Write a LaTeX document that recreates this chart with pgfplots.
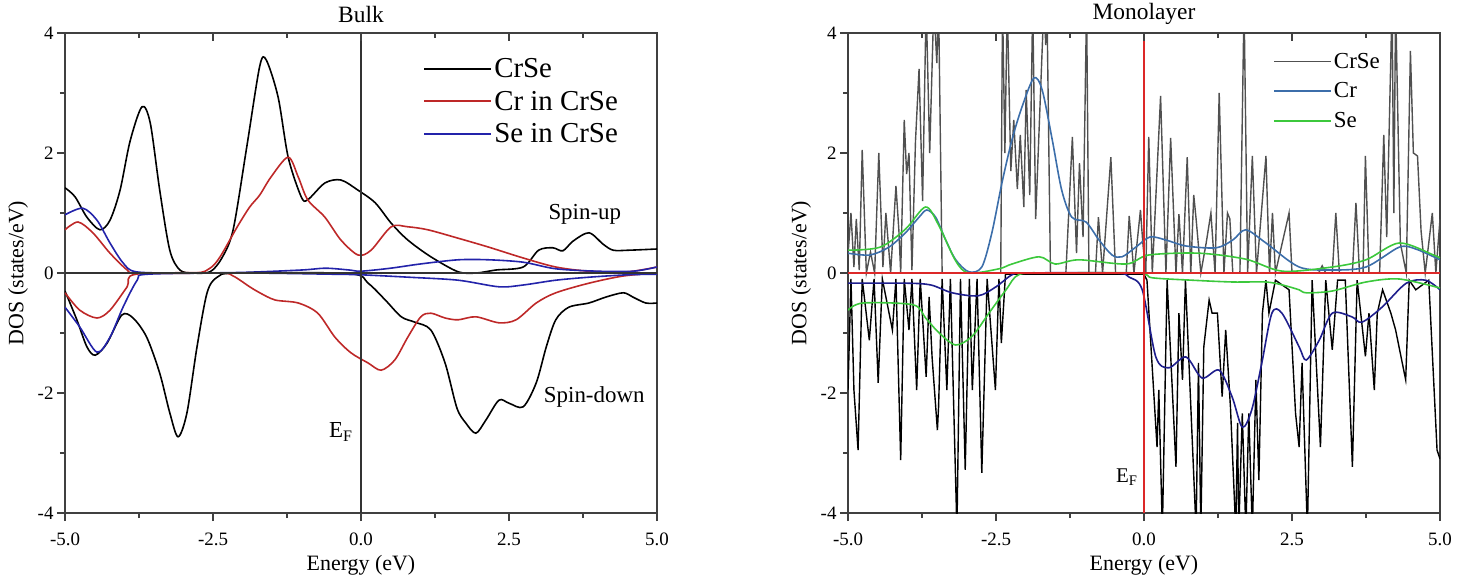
\documentclass[border=0pt]{standalone}
\usepackage{pgfplots}
\pgfplotsset{compat=1.18}
\usepackage{fontspec}
\setmainfont{Liberation Serif}

\definecolor{bred}{RGB}{190,40,40}
\definecolor{bblue}{RGB}{35,35,170}
\definecolor{mgray}{RGB}{80,80,80}
\definecolor{mcrup}{RGB}{60,110,170}
\definecolor{mcrdn}{RGB}{30,30,140}
\definecolor{mse}{RGB}{60,200,60}
\definecolor{mfermi}{RGB}{220,40,40}

\pgfplotsset{
  dosaxis/.style={
    width=592bp, height=480bp, scale only axis,
    xmin=-5, xmax=5, ymin=-4, ymax=4,
    xtick={-5,-2.5,0,2.5,5}, minor x tick num=1,
    ytick={-4,-2,0,2,4}, minor y tick num=1,
    tick align=outside, xtick pos=bottom, ytick pos=left,
    major tick length=8bp, minor tick length=5bp,
    axis line style={line width=1.2bp, black!75},
    every tick/.style={line width=1.2bp, black!75},
    x tick label style={/pgf/number format/fixed,/pgf/number format/fixed zerofill,/pgf/number format/precision=1,yshift=-8bp},
    /pgf/number format/assume math mode=true,
    tick label style={font=\fontsize{19}{22}\selectfont},
    xlabel={Energy (eV)}, ylabel={DOS (states/eV)},
    label style={font=\fontsize{22}{26}\selectfont},
    xlabel style={at={(axis description cs:0.5,-0.108)}, anchor=center},
    ylabel style={at={(axis description cs:-0.0794,0.5)}, anchor=center},
    title style={at={(axis description cs:0.5,1.027)}, anchor=center, font=\fontsize{23.5}{27}\selectfont},
    legend cell align=left,
  },
  topticks/.style={
    width=592bp, height=480bp, scale only axis,
    xmin=-5, xmax=5, ymin=-4, ymax=4,
    axis x line*=top, hide y axis,
    xtick={-5,-2.5,0,2.5,5}, minor x tick num=1, xticklabels={},
    tick align=inside, major tick length=8bp, minor tick length=5bp,
    axis line style={line width=1.2bp, black!75},
    every tick/.style={line width=1.2bp, black!75},
  }
}

\begin{document}
\begin{tikzpicture}
\path[use as bounding box] (-65bp,-73bp) rectangle (1407bp,513bp);

% ---------------- Bulk ----------------
\begin{axis}[dosaxis, at={(0bp,0bp)}, anchor=south west, title={Bulk},
  legend style={draw=none, fill=none, at={(rel axis cs:0.60,0.956)}, anchor=north west,
    font=\fontsize{29}{32}\selectfont, row sep=8bp},
  legend image code/.code={\draw[#1, line width=1.9bp] (0bp,0bp) -- (67bp,0bp);}]
\addplot[black, line width=1.6bp, smooth] coordinates {
(-5.0,1.42) (-4.83,1.27) (-4.63,0.93) (-4.41,0.72) (-4.24,0.88) (-4.07,1.38) (-3.90,2.2)
(-3.70,2.77) (-3.56,2.5) (-3.40,1.38) (-3.23,0.38) (-3.06,0.05) (-2.84,0) (-2.55,0.02)
(-2.35,0.25) (-2.16,0.72) (-1.93,2.1) (-1.71,3.45) (-1.60,3.55) (-1.40,2.93) (-1.23,1.93)
(-1.01,1.27) (-0.90,1.22) (-0.61,1.50) (-0.34,1.55) (-0.05,1.38) (0.24,1.17) (0.51,0.83)
(0.79,0.55) (1.18,0.27) (1.64,0.02) (1.95,0.0) (2.28,0.05) (2.74,0.1) (3.0,0.38) (3.24,0.42)
(3.41,0.37) (3.58,0.53) (3.85,0.67) (4.09,0.48) (4.26,0.38) (4.53,0.38) (5.0,0.40)};
\addlegendentry{CrSe}
\addplot[bred, line width=1.6bp, smooth] coordinates {
(-5.0,0.72) (-4.78,0.85) (-4.53,0.67) (-4.24,0.33) (-3.95,0.05) (-3.8,0) (-2.8,0) (-2.55,0.08)
(-2.38,0.27) (-2.09,0.77) (-1.88,1.1) (-1.71,1.3) (-1.52,1.6) (-1.23,1.93) (-1.06,1.6)
(-0.90,1.22) (-0.61,0.93) (-0.34,0.55) (-0.05,0.3) (0.17,0.38) (0.51,0.77) (0.79,0.77)
(1.13,0.72) (1.64,0.58) (2.16,0.43) (2.74,0.25) (3.29,0.1) (3.85,0.03) (4.5,0.02) (5.0,0.1)};
\addlegendentry{Cr in CrSe}
\addplot[bblue, line width=1.6bp, smooth] coordinates {
(-5.0,0.97) (-4.70,1.08) (-4.46,0.88) (-4.24,0.5) (-4.02,0.17) (-3.8,0.02) (-3.0,0) (-2.0,0.01)
(-1.0,0.05) (-0.6,0.08) (-0.2,0.05) (0.0,0.03) (0.5,0.08) (1.0,0.15) (1.64,0.22) (2.16,0.22)
(2.74,0.18) (3.29,0.07) (4.0,0.03) (4.6,0.03) (5.0,0.1)};
\addlegendentry{Se in CrSe}
\addplot[black, line width=1.6bp, smooth, forget plot] coordinates {
(-5.0,-0.3) (-4.80,-0.78) (-4.63,-1.23) (-4.49,-1.37) (-4.29,-1.17) (-4.04,-0.70) (-3.85,-0.75)
(-3.62,-1.07) (-3.40,-1.67) (-3.23,-2.33) (-3.09,-2.73) (-2.94,-2.33) (-2.77,-1.23)
(-2.60,-0.33) (-2.43,-0.07) (-2.1,0) (-0.2,-0.01) (0.12,-0.17) (0.41,-0.45) (0.68,-0.73)
(0.91,-0.82) (1.18,-0.95) (1.42,-1.5) (1.62,-2.25) (1.77,-2.5) (1.94,-2.67) (2.11,-2.45)
(2.33,-2.12) (2.50,-2.17) (2.74,-2.23) (2.96,-1.83) (3.13,-1.23) (3.29,-0.78) (3.51,-0.57)
(3.85,-0.50) (4.14,-0.40) (4.43,-0.33) (4.59,-0.40) (4.81,-0.50) (5.0,-0.5)};
\addplot[bred, line width=1.6bp, smooth, forget plot] coordinates {
(-5.0,-0.33) (-4.75,-0.62) (-4.46,-0.75) (-4.24,-0.62) (-3.95,-0.23) (-3.8,-0.02) (-2.4,0)
(-2.16,-0.05) (-1.88,-0.23) (-1.71,-0.33) (-1.45,-0.45) (-1.06,-0.5) (-0.73,-0.67)
(-0.44,-1.07) (-0.17,-1.33) (0.12,-1.5) (0.34,-1.62) (0.57,-1.45) (0.79,-1.07) (1.01,-0.73)
(1.18,-0.67) (1.42,-0.75) (1.64,-0.78) (1.94,-0.73) (2.33,-0.83) (2.62,-0.78) (2.96,-0.5)
(3.29,-0.33) (3.85,-0.17) (4.43,-0.05) (5.0,0)};
\addplot[bblue, line width=1.6bp, smooth, forget plot] coordinates {
(-5.0,-0.57) (-4.75,-0.9) (-4.46,-1.32) (-4.24,-1.07) (-4.02,-0.57) (-3.78,-0.12) (-3.6,-0.02)
(-2,0) (-0.5,-0.02) (0,-0.03) (0.8,-0.07) (1.64,-0.12) (2.33,-0.23) (2.74,-0.2) (3.29,-0.12)
(3.85,-0.07) (4.5,-0.03) (5.0,-0.02)};
\addplot[black!80, line width=1.3bp, forget plot] coordinates {(-5,0) (5,0)};
\addplot[black!80, line width=1.3bp, forget plot] coordinates {(0,-4) (0,4)};
\node[font=\fontsize{23}{27}\selectfont] at (axis cs:3.78,0.97) {Spin-up};
\node[font=\fontsize{23}{27}\selectfont] at (axis cs:3.94,-2.07) {Spin-down};
\node[font=\fontsize{23}{27}\selectfont] at (axis cs:-0.34,-2.65) {E\textsubscript{F}};
\end{axis}
\begin{axis}[topticks, at={(0bp,0bp)}, anchor=south west]
\end{axis}

% ---------------- Monolayer ----------------
\begin{axis}[dosaxis, at={(783bp,0bp)}, anchor=south west, title={Monolayer},
  legend style={draw=none, fill=none, at={(rel axis cs:0.713,0.967)}, anchor=north west,
    font=\fontsize{23}{26}\selectfont, row sep=9bp},
  legend image code/.code={\draw[#1, line width=1.7bp] (0bp,0bp) -- (57bp,0bp);}]
\addplot[mgray, line width=1.4bp] coordinates {
(-5.0,0.3) (-4.95,1.0) (-4.90,0.1) (-4.86,0.9) (-4.81,0.05) (-4.76,2.05) (-4.69,0) (-4.62,0.35)
(-4.55,0) (-4.48,2.0) (-4.41,0.1) (-4.36,1.0) (-4.28,0) (-4.19,1.45) (-4.14,0.7) (-4.11,0)
(-4.05,2.55) (-4.01,1.65) (-3.97,2.0) (-3.92,0.05) (-3.86,2.2) (-3.80,3.4) (-3.74,1.2)
(-3.68,4.5) (-3.62,2.0) (-3.55,4.5) (-3.50,3.5) (-3.47,4.5) (-3.41,0) (-2.42,0) (-2.39,4.5)
(-2.35,2.0) (-2.31,4.5) (-2.25,1.7) (-2.2,2.55) (-2.14,1.4) (-2.09,2.3) (-2.03,1.1) (-1.99,3.05)
(-1.93,1.3) (-1.88,4.5) (-1.83,0.9) (-1.69,4.5) (-1.66,3.8) (-1.64,4.5) (-1.58,0) (-1.32,0)
(-1.21,2.27) (-1.14,0.33) (-1.09,1.83) (-1.03,0.6) (-0.97,4.5) (-0.93,0) (-0.82,0) (-0.77,0.93)
(-0.70,0) (-0.56,1.93) (-0.48,0) (-0.30,0) (-0.25,0.95) (-0.17,0) (-0.06,1.05) (-0.02,0.5)
(0.03,0) (0.08,2.27) (0.14,0) (0.28,2.95) (0.37,0) (0.45,2.25) (0.54,0) (0.59,0.98) (0.65,0)
(0.73,1.93) (0.79,0) (0.84,1.3) (0.88,0.9) (0.96,0) (1.05,0.5) (1.13,1.0) (1.2,0) (1.27,3.0)
(1.35,0) (1.41,1.0) (1.45,0.9) (1.5,0) (1.62,0) (1.69,4.5) (1.75,0) (1.83,1.95) (1.9,0)
(2.06,1.95) (2.12,0) (2.17,1.0) (2.22,0) (2.45,1.0) (2.5,0) (2.95,0) (3.01,0.12) (3.07,0)
(3.18,0) (3.24,1.0) (3.3,0) (3.52,0) (3.58,1.17) (3.64,0) (3.70,0) (3.74,1.95) (3.80,0) (3.98,0)
(4.05,2.3) (4.1,0.6) (4.19,4.5) (4.22,1.0) (4.25,4.5) (4.33,0.5) (4.43,0) (4.50,3.7) (4.55,2.0)
(4.62,1.95) (4.68,0.7) (4.75,0) (4.87,1.0) (4.93,0) (5.0,0.9)};
\addlegendentry{CrSe}
\addplot[mcrup, line width=1.6bp, smooth] coordinates {
(-5.0,0.33) (-4.63,0.3) (-4.31,0.43) (-4.03,0.67) (-3.80,0.93) (-3.67,1.05) (-3.52,0.93)
(-3.35,0.55) (-3.18,0.22) (-2.96,0.02) (-2.74,0.1) (-2.57,0.67) (-2.40,1.5) (-2.23,2.22)
(-2.06,2.77) (-1.86,3.25) (-1.72,3.05) (-1.55,2.22) (-1.39,1.38) (-1.22,0.93) (-0.98,0.85)
(-0.76,0.55) (-0.54,0.30) (-0.37,0.27) (-0.14,0.43) (0.10,0.6) (0.37,0.55) (0.71,0.45)
(1.22,0.42) (1.50,0.55) (1.72,0.72) (2.06,0.5) (2.62,0.1) (3.18,0.05) (3.75,0.1) (4.31,0.43)
(4.59,0.4) (5.0,0.22)};
\addlegendentry{Cr}
\addplot[mse, line width=1.6bp, smooth] coordinates {
(-5.0,0.38) (-4.46,0.43) (-4.03,0.73) (-3.69,1.1) (-3.47,0.8) (-3.18,0.2) (-2.96,0.0)
(-2.45,0.07) (-2.23,0.15) (-1.77,0.27) (-1.5,0.15) (-1.1,0.22) (-0.3,0.15) (0.08,0.3)
(0.93,0.33) (1.72,0.23) (2.34,0.03) (3.18,0.1) (3.75,0.22) (4.31,0.5) (4.89,0.3) (5.0,0.25)};
\addlegendentry{Se}
\addplot[black, line width=1.4bp, forget plot] coordinates {
(-5.0,-1.95) (-4.95,-0.1) (-4.90,-1.95) (-4.83,-2.95) (-4.76,-0.1) (-4.64,-1.12) (-4.56,-0.1)
(-4.49,-1.83) (-4.42,-0.1) (-4.25,-0.95) (-4.19,-0.1) (-4.11,-3.12) (-4.05,-0.1) (-3.97,-0.95)
(-3.92,-0.1) (-3.84,-1.95) (-3.78,-0.1) (-3.68,-1.73) (-3.63,-0.4) (-3.58,-1.4) (-3.49,-2.62)
(-3.47,-2.23) (-3.41,-0.1) (-3.33,-1.95) (-3.27,-0.1) (-3.16,-4.3) (-3.10,-0.1) (-3.02,-3.28)
(-2.95,-0.1) (-2.90,-1.95) (-2.82,-0.1) (-2.74,-3.33) (-2.65,-0.1) (-2.51,-1.95) (-2.45,-0.1)
(-2.41,-1.17) (-2.34,-0.02) (0.0,-0.02) (0.05,-0.12) (0.22,-2.9) (0.25,-1.95) (0.31,-4.3) (0.39,-0.12)
(0.54,-3.23) (0.59,-0.67) (0.65,-1.78) (0.70,-0.12) (0.88,-4.3) (0.92,-1.5) (0.96,-4.3)
(1.01,-1.23) (1.10,-0.45) (1.15,-0.67) (1.24,-0.67) (1.32,-2.06) (1.38,-0.95) (1.46,-2.23)
(1.55,-4.3) (1.58,-2.5) (1.60,-4.3) (1.66,-2.34) (1.72,-4.3) (1.77,-2.34) (1.83,-4.3)
(1.89,-1.78) (1.94,-3.45) (2.00,-0.67) (2.06,-0.12) (2.11,-0.67) (2.22,-0.12) (2.45,-0.28)
(2.56,-2.34) (2.62,-2.9) (2.67,-1.5) (2.76,-4.3) (2.84,-0.12) (2.98,-2.9) (3.07,-0.12)
(3.18,-1.28) (3.27,-0.12) (3.40,-0.12) (3.52,-3.23) (3.60,-0.12) (3.74,-1.39) (3.80,-0.67)
(3.89,-1.95) (3.94,-0.67) (4.03,-0.28) (4.17,-0.67) (4.25,-0.95) (4.42,-1.78) (4.48,-0.12)
(4.59,-0.28) (4.81,-0.12) (4.95,-2.95) (5.0,-3.1)};
\addplot[mcrdn, line width=1.6bp, smooth, forget plot] coordinates {
(-5.0,-0.17) (-4.0,-0.17) (-3.6,-0.2) (-3.24,-0.33) (-2.8,-0.38) (-2.5,-0.23) (-2.23,-0.03)
(-2.0,0) (-0.5,0) (-0.25,-0.07) (-0.03,-0.28) (0.2,-1.4) (0.42,-1.58) (0.71,-1.4) (0.98,-1.75)
(1.27,-1.62) (1.49,-2.07) (1.66,-2.57) (1.82,-2.28) (1.99,-1.5) (2.16,-0.67) (2.33,-0.67)
(2.62,-1.23) (2.74,-1.45) (2.96,-1.12) (3.18,-0.67) (3.51,-0.73) (3.68,-0.82) (4.02,-0.57)
(4.43,-0.17) (4.76,-0.12) (5.0,-0.28)};
\addplot[mse, line width=1.6bp, smooth, forget plot] coordinates {
(-5.0,-0.62) (-4.75,-0.5) (-3.9,-0.53) (-3.69,-0.75) (-3.46,-1.0) (-3.18,-1.2) (-2.9,-1.05)
(-2.62,-0.67) (-2.33,-0.28) (-2.1,-0.02) (-1.5,0) (-0.1,0) (0.14,-0.08) (0.81,-0.12)
(1.5,-0.15) (2.06,-0.15) (2.34,-0.2) (2.62,-0.28) (2.74,-0.33) (3.18,-0.3) (3.75,-0.15)
(4.31,-0.1) (5.0,-0.25)};
\addplot[mfermi, line width=1.4bp, forget plot] coordinates {(-5,0) (5,0)};
\addplot[mfermi, line width=1.4bp, forget plot] coordinates {(0,-4) (0,4)};
\node[font=\fontsize{21}{25}\selectfont] at (axis cs:-0.29,-3.4) {E\textsubscript{F}};
\end{axis}
\begin{axis}[topticks, at={(783bp,0bp)}, anchor=south west]
\end{axis}
\end{tikzpicture}
\end{document}
